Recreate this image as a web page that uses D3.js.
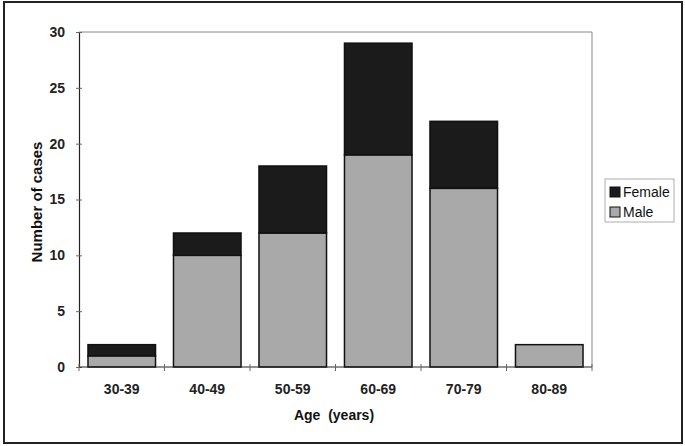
<!DOCTYPE html>
<html>
<head>
<meta charset="utf-8">
<script src="https://cdn.jsdelivr.net/npm/d3@7"></script>
<style>
  body { margin: 0; background: #fff; }
  text { font-family: "Liberation Sans", Arial, sans-serif; white-space: pre; }
</style>
</head>
<body>
<div id="chart"></div>
<script>
const categories = ["30-39", "40-49", "50-59", "60-69", "70-79", "80-89"];
const male = [1, 10, 12, 19, 16, 2];
const female = [1, 2, 6, 10, 6, 0];
const yTicks = [0, 5, 10, 15, 20, 25, 30];
const seriesNames = ["Female", "Male"];

const W = 685, H = 446;
const plot = { left: 79, top: 32, right: 592, bottom: 367 };

const svg = d3.select("#chart").append("svg")
    .attr("width", W)
    .attr("height", H);

// outer frame
svg.append("rect")
    .attr("x", 4).attr("y", 2)
    .attr("width", 678).attr("height", 441)
    .attr("fill", "#fff")
    .attr("stroke", "#222")
    .attr("stroke-width", 2);

const x = d3.scaleBand()
    .domain(categories)
    .range([plot.left, plot.right])
    .paddingInner(0.21)
    .paddingOuter(0.105);

const y = d3.scaleLinear()
    .domain([0, 30])
    .range([plot.bottom, plot.top]);

// plot area border (top and right, light)
svg.append("path")
    .attr("d", `M${plot.left},${plot.top}H${plot.right}V${plot.bottom}`)
    .attr("fill", "none")
    .attr("stroke", "#888")
    .attr("stroke-width", 1);

const rows = categories.map((c, i) => ({ cat: c, Male: male[i], Female: female[i] }));
const stack = d3.stack().keys(["Male", "Female"])(rows);
const colors = { Male: "#a9a9a9", Female: "#1b1b1b" };

svg.append("g").selectAll("g")
    .data(stack)
    .enter()
    .append("g")
    .attr("fill", d => colors[d.key])
    .selectAll("rect")
    .data(d => d.filter(s => s[1] > s[0]))
    .enter()
    .append("rect")
    .attr("x", d => x(d.data.cat))
    .attr("y", d => y(d[1]))
    .attr("width", x.bandwidth())
    .attr("height", d => y(d[0]) - y(d[1]))
    .attr("stroke", "#111")
    .attr("stroke-width", 1.5);

// y axis, ticks crossing the line
const yAxis = svg.append("g")
    .attr("transform", `translate(${plot.left},0)`)
    .call(d3.axisLeft(y).tickValues(yTicks).tickSize(3).tickPadding(11));
yAxis.select(".domain").attr("stroke", "#222").attr("stroke-width", 1.2);
yAxis.selectAll(".tick line").attr("x2", 3).attr("x1", -3).attr("stroke", "#666");
yAxis.selectAll("text")
    .attr("font-size", 14)
    .attr("font-weight", "bold")
    .attr("fill", "#222");

// x axis: ticks at band boundaries
const xAxis = svg.append("g")
    .attr("transform", `translate(0,${plot.bottom})`);
xAxis.append("line")
    .attr("x1", plot.left).attr("x2", plot.right)
    .attr("stroke", "#222").attr("stroke-width", 1.2);
const bounds = d3.range(categories.length + 1).map(i => plot.left + i * (plot.right - plot.left) / categories.length);
xAxis.selectAll(".xt")
    .data(bounds)
    .enter()
    .append("line")
    .attr("x1", d => d).attr("x2", d => d)
    .attr("y1", -3).attr("y2", 4)
    .attr("stroke", "#666");
xAxis.selectAll(".xl")
    .data(categories)
    .enter()
    .append("text")
    .attr("x", d => x(d) + x.bandwidth() / 2)
    .attr("y", 27)
    .attr("text-anchor", "middle")
    .attr("font-size", 14)
    .attr("font-weight", "bold")
    .attr("fill", "#222")
    .text(d => d);

// axis titles
svg.append("text")
    .attr("x", 334)
    .attr("y", 420)
    .attr("text-anchor", "middle")
    .attr("font-size", 14)
    .attr("font-weight", "bold")
    .attr("fill", "#111")
    .text("Age  (years)");

svg.append("text")
    .attr("transform", `translate(42,202) rotate(-90)`)
    .attr("text-anchor", "middle")
    .attr("font-size", 15)
    .attr("font-weight", "bold")
    .attr("fill", "#111")
    .text("Number of cases");

// legend
const legend = svg.append("g").attr("transform", "translate(605,179)");
legend.append("rect")
    .attr("width", 69).attr("height", 43)
    .attr("fill", "#fff")
    .attr("stroke", "#999")
    .attr("stroke-width", 0.8);
const items = legend.selectAll(".item")
    .data(seriesNames)
    .enter()
    .append("g")
    .attr("transform", (d, i) => `translate(5,${8 + i * 20})`);
items.append("rect")
    .attr("width", 10).attr("height", 10)
    .attr("fill", d => colors[d])
    .attr("stroke", "#111")
    .attr("stroke-width", 1);
items.append("text")
    .attr("x", 13).attr("y", 10)
    .attr("font-size", 14)
    .attr("fill", "#111")
    .text(d => d);
</script>
</body>
</html>
